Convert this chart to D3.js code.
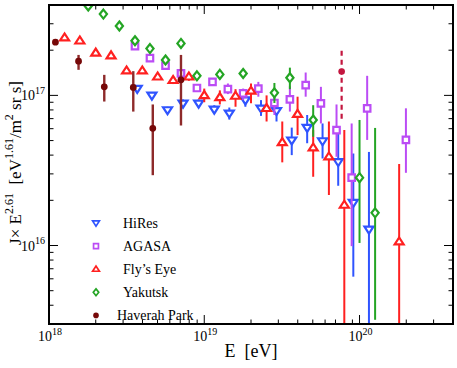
<!DOCTYPE html>
<html>
<head>
<meta charset="utf-8">
<script src="https://cdn.jsdelivr.net/npm/d3@7"></script>
<style>
  body { margin: 0; background: #fff; }
  svg text { font-family: "Liberation Serif", "DejaVu Serif", serif; fill: #000; }
</style>
</head>
<body>
<svg id="chart" width="457" height="368"></svg>
<script>
// data: [E (eV), J*E^2.61, low, high]
var hires = [
  [3.7e18, 1.11e17, 1.06e17, 1.16e17],
  [4.6e18, 1.0e17, 9.5e16, 1.05e17],
  [5.8e18, 8.0e16, 7.6e16, 8.4e16],
  [7.3e18, 8.85e16, 8.3e16, 9.4e16],
  [9.2e18, 8.85e16, 8.3e16, 9.4e16],
  [1.16e19, 8.07e16, 7.6e16, 8.6e16],
  [1.45e19, 7.6e16, 6.9e16, 8.3e16],
  [1.84e19, 9.3e16, 8.4e16, 1.03e17],
  [2.32e19, 8.2e16, 7.3e16, 9.3e16],
  [2.92e19, 7.9e16, 6.7e16, 9.3e16],
  [3.66e19, 5.03e16, 4.0e16, 6.1e16],
  [4.6e19, 6.1e16, 4.8e16, 7.4e16],
  [5.78e19, 4.97e16, 3.8e16, 6.5e16],
  [7.29e19, 3.61e16, 2.5e16, 5.6e16],
  [9.12e19, 1.93e16, 6.2e15, 4.1e16],
  [1.15e20, 1.28e16, 1e15, 4.2e16]
];

var agasa = [
  [3.58e18, 2.13e17, 2.07e17, 2.19e17],
  [4.47e18, 1.77e17, 1.72e17, 1.82e17],
  [5.63e18, 1.58e17, 1.53e17, 1.63e17],
  [7.08e18, 1.40e17, 1.36e17, 1.44e17],
  [8.97e18, 1.12e17, 1.08e17, 1.16e17],
  [1.13e19, 1.23e17, 1.17e17, 1.29e17],
  [1.42e19, 1.10e17, 1.02e17, 1.20e17],
  [1.78e19, 1.03e17, 9.3e16, 1.11e17],
  [2.23e19, 1.11e17, 9.8e16, 1.23e17],
  [2.83e19, 8.9e16, 7.4e16, 1.04e17],
  [3.56e19, 9.4e16, 7.8e16, 1.15e17],
  [4.5e19, 1.17e17, 9.8e16, 1.42e17],
  [5.64e19, 8.85e16, 6.5e16, 1.14e17],
  [7.11e19, 5.87e16, 3.9e16, 8.7e16],
  [8.9e19, 2.83e16, 9.9e15, 6.5e16],
  [1.12e20, 8.2e16, 5.05e16, 1.35e17],
  [1.99e20, 5.05e16, 3.05e16, 8.2e16]
];

var flyseye = [
  [1.26e18, 2.42e17, 2.42e17, 2.42e17],
  [1.58e18, 2.31e17, 2.31e17, 2.31e17],
  [2.0e18, 1.92e17, 1.92e17, 1.92e17],
  [2.51e18, 1.84e17, 1.84e17, 1.84e17],
  [3.16e18, 1.46e17, 1.46e17, 1.46e17],
  [3.99e18, 1.46e17, 1.46e17, 1.46e17],
  [5.01e18, 1.33e17, 1.30e17, 1.36e17],
  [6.3e18, 1.26e17, 1.19e17, 1.34e17],
  [7.96e18, 1.33e17, 1.25e17, 1.41e17],
  [1.0e19, 1.0e17, 9.0e16, 1.11e17],
  [1.26e19, 9.7e16, 8.7e16, 1.08e17],
  [1.59e19, 9.9e16, 8.4e16, 1.10e17],
  [2.0e19, 1.07e17, 8.85e16, 1.20e17],
  [2.52e19, 8.2e16, 6.7e16, 1.0e17],
  [3.18e19, 4.86e16, 3.58e16, 6.7e16],
  [3.99e19, 7.5e16, 5.44e16, 9.8e16],
  [5.03e19, 4.48e16, 2.87e16, 5.87e16],
  [6.35e19, 3.9e16, 2.17e16, 6.7e16],
  [7.98e19, 1.86e16, 1e15, 5.87e16],
  [1.8e20, 1.06e16, 1e15, 3.49e16]
];

var yakutsk = [
  [1.79e18, 3.94e17, 3.94e17, 3.94e17],
  [2.24e18, 3.48e17, 3.48e17, 3.48e17],
  [2.84e18, 2.9e17, 2.9e17, 2.9e17],
  [3.58e18, 2.31e17, 2.25e17, 2.37e17],
  [4.47e18, 2.05e17, 2.0e17, 2.1e17],
  [5.63e18, 1.72e17, 1.68e17, 1.76e17],
  [7.08e18, 2.22e17, 2.16e17, 2.28e17],
  [8.97e18, 1.35e17, 1.31e17, 1.39e17],
  [1.26e19, 1.38e17, 1.34e17, 1.42e17],
  [1.78e19, 1.40e17, 1.35e17, 1.45e17],
  [2.83e19, 1.04e17, 8.9e16, 1.21e17],
  [3.56e19, 1.31e17, 1.10e17, 1.53e17],
  [5.03e19, 6.86e16, 5.3e16, 8.6e16],
  [1.0e20, 2.83e16, 1.04e16, 6.86e16],
  [1.26e20, 1.65e16, 3.2e15, 6.07e16]
];

var haverah = [
  [1.1e18, 2.26e17, 2.26e17, 2.26e17],
  [1.55e18, 1.69e17, 1.48e17, 1.86e17],
  [2.27e18, 1.14e17, 9.1e16, 1.37e17],
  [3.49e18, 1.13e17, 7.8e16, 1.45e17],
  [4.66e18, 6.03e16, 2.94e16, 8.7e16],
  [7.08e18, 1.27e17, 6.3e16, 1.86e17]
];
// the single highest-energy Haverah Park point, drawn with a dashed bar
var haverahTop = [[7.67e19, 1.44e17, 7.0e16, 2.11e17]];

var seriesNames = ["HiRes", "AGASA", "Fly\u2019s Eye", "Yakutsk", "Haverah Park"];

var xMajor = [1e18, 1e19, 1e20];
var yMajor = [1e16, 1e17];

var x0 = 49, x1 = 453, y0 = 5, y1 = 324;

var x = d3.scaleLog().domain([1e18, 4e20]).range([x0, x1]);
var y = d3.scaleLog().domain([3e15, 4e17]).range([y1, y0]);

var svg = d3.select("#chart");

svg.append("defs").append("clipPath").attr("id", "plotclip")
  .append("rect").attr("x", x0).attr("y", y0).attr("width", x1 - x0).attr("height", y1 - y0);

function minorTicks(lo, hi) {
  var out = [];
  for (var p = Math.floor(Math.log10(lo)); p <= Math.ceil(Math.log10(hi)); p++) {
    for (var m = 1; m < 10; m++) {
      var v = m * Math.pow(10, p);
      if (v >= lo && v <= hi) out.push({v: v, major: m === 1});
    }
  }
  return out;
}

var xt = minorTicks(1e18, 4e20), yt = minorTicks(3e15, 4e17);
var ticks = svg.append("g").attr("stroke", "#000").attr("stroke-width", 1);

xt.forEach(function(t) {
  var len = t.major ? 9 : 4.5, px = x(t.v);
  ticks.append("line").attr("x1", px).attr("x2", px).attr("y1", y1).attr("y2", y1 - len);
  ticks.append("line").attr("x1", px).attr("x2", px).attr("y1", y0).attr("y2", y0 + len);
});
yt.forEach(function(t) {
  var len = t.major ? 9 : 4.5, py = y(t.v);
  ticks.append("line").attr("y1", py).attr("y2", py).attr("x1", x0).attr("x2", x0 + len);
  ticks.append("line").attr("y1", py).attr("y2", py).attr("x1", x1).attr("x2", x1 - len);
});

function supLabel(g, base, exp, baseSize, expSize) {
  g.append("tspan").attr("font-size", baseSize).text(base);
  g.append("tspan").attr("font-size", expSize).attr("dy", -baseSize * 0.45).text(exp);
}

xMajor.forEach(function(v) {
  var t = svg.append("text").attr("x", x(v) + 1).attr("y", 341).attr("text-anchor", "middle");
  supLabel(t, "10", Math.round(Math.log10(v)), 14, 10);
});
yMajor.forEach(function(v) {
  var t = svg.append("text").attr("x", 45).attr("y", y(v) + 5).attr("text-anchor", "end");
  supLabel(t, "10", Math.round(Math.log10(v)), 14, 10);
});

svg.append("text").attr("x", 251).attr("y", 357).attr("text-anchor", "middle")
  .attr("font-size", 18).text("E\u00a0\u00a0[eV]");

var yl = svg.append("text").attr("transform", "translate(21,163) rotate(-90)")
  .attr("text-anchor", "middle").attr("font-size", 17);
yl.append("tspan").text("J\u00d7 E");
yl.append("tspan").attr("font-size", 12).attr("dy", -8).text("2.61");
yl.append("tspan").attr("dy", 8).text("\u00a0\u00a0[eV");
yl.append("tspan").attr("font-size", 12).attr("dy", -8).text("1.61");
yl.append("tspan").attr("dy", 8).text("/m");
yl.append("tspan").attr("font-size", 12).attr("dy", -8).text("2");
yl.append("tspan").attr("dy", 8).text("\u00a0sr s]");

var styles = [
  {data: hires, color: "#2f54ff", shape: "down"},
  {data: agasa, color: "#bb4cf5", shape: "square"},
  {data: flyseye, color: "#ff2020", shape: "up"},
  {data: yakutsk, color: "#24a524", shape: "diamond"},
  {data: haverah, color: "#760808", bar: "#8e2a2a", shape: "dot"}
];

function shapePath(shape, s) {
  if (shape === "down") return "M" + (-s) + "," + (-s * 0.6) + "L" + s + "," + (-s * 0.6) + "L0," + (s * 0.95) + "Z";
  if (shape === "up") return "M" + (-s) + "," + (s * 0.6) + "L" + s + "," + (s * 0.6) + "L0," + (-s * 0.95) + "Z";
  if (shape === "square") { var h = s * 0.72; return "M" + (-h) + "," + (-h) + "H" + h + "V" + h + "H" + (-h) + "Z"; }
  if (shape === "diamond") return "M0," + (-s) + "L" + (s * 0.8) + ",0L0," + s + "L" + (-s * 0.8) + ",0Z";
  return d3.symbol(d3.symbolCircle, Math.PI * s * s)();
}

var plot = svg.append("g").attr("clip-path", "url(#plotclip)");

styles.forEach(function(st) {
  var g = plot.append("g");
  g.selectAll("line.err").data(st.data.filter(function(d) { return d[2] !== d[3]; }))
    .enter().append("line")
    .attr("x1", function(d) { return x(d[0]); }).attr("x2", function(d) { return x(d[0]); })
    .attr("y1", function(d) { return y(d[2]); }).attr("y2", function(d) { return y(d[3]); })
    .attr("stroke", st.bar || st.color).attr("stroke-width", st.shape === "dot" ? 2.4 : 2);
  g.selectAll("path").data(st.data).enter().append("path")
    .attr("transform", function(d) { return "translate(" + x(d[0]) + "," + y(d[1]) + ")"; })
    .attr("d", shapePath(st.shape, st.shape === "dot" ? 3.4 : 4.5))
    .attr("fill", st.shape === "dot" ? st.color : "#fff")
    .attr("stroke", st.color).attr("stroke-width", st.shape === "dot" ? 0 : 2.2);
});

// dashed Haverah Park point
var hg = plot.append("g");
hg.selectAll("line").data(haverahTop).enter().append("line")
  .attr("x1", function(d) { return x(d[0]); }).attr("x2", function(d) { return x(d[0]); })
  .attr("y1", function(d) { return y(d[2]); }).attr("y2", function(d) { return y(d[3]); })
  .attr("stroke", "#c3163f").attr("stroke-width", 2.2).attr("stroke-dasharray", "5,4");
hg.selectAll("circle").data(haverahTop).enter().append("circle")
  .attr("cx", function(d) { return x(d[0]); }).attr("cy", function(d) { return y(d[1]); })
  .attr("r", 3.3).attr("fill", "#c3163f");

// legend
var legend = svg.append("g");
seriesNames.forEach(function(name, i) {
  var st = styles[i], ly = 223 + i * 23.1;
  legend.append("path").attr("transform", "translate(96," + ly + ")")
    .attr("d", shapePath(st.shape, st.shape === "dot" ? 2.8 : 3.4))
    .attr("fill", st.shape === "dot" ? st.color : "#fff")
    .attr("stroke", st.color).attr("stroke-width", st.shape === "dot" ? 0 : 1.7);
  legend.append("text").attr("x", i === 4 ? 117 : 123).attr("y", ly + 5)
    .attr("font-size", 14).text(name);
});

// frame
svg.append("rect").attr("x", x0).attr("y", y0).attr("width", x1 - x0).attr("height", y1 - y0)
  .attr("fill", "none").attr("stroke", "#000").attr("stroke-width", 2);
</script>
</body>
</html>
